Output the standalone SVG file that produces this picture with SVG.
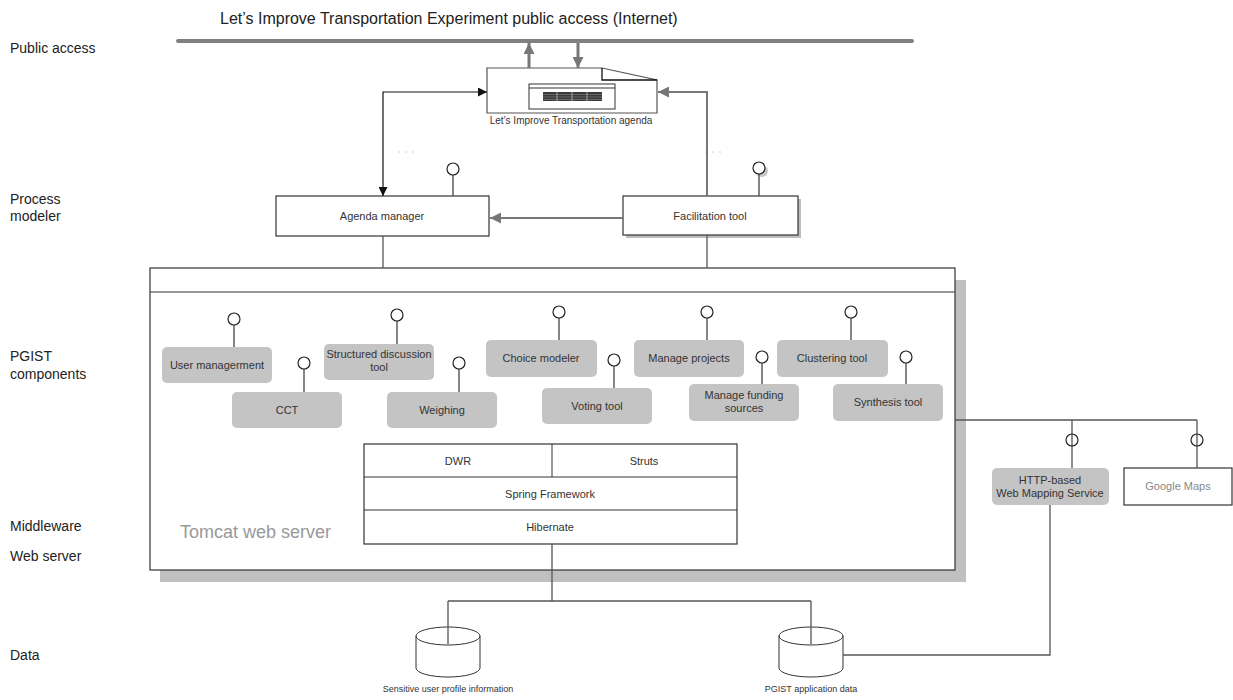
<svg xmlns="http://www.w3.org/2000/svg" width="1233" height="700" viewBox="0 0 1233 700">
<style>
text{font-family:"Liberation Sans",Arial,sans-serif;fill:#222}
.lbl{font-size:14px}
.sm{font-size:11px;text-anchor:middle;fill:#333}
.xs{font-size:9px;text-anchor:middle;fill:#333}
.comp{fill:#c4c4c4;stroke:none}
.box{fill:#fff;stroke:#333;stroke-width:1.2}
.stem{stroke:#444;stroke-width:1.3;fill:none}
.lol{fill:#fff;stroke:#222;stroke-width:1.2}
.conn{stroke:#555;stroke-width:1.3;fill:none}
.gconn{stroke:#777;stroke-width:2;fill:none}
</style>
<defs>
<marker id="arrB" viewBox="0 0 10 10" refX="10" refY="5" markerWidth="9" markerHeight="9" markerUnits="userSpaceOnUse" orient="auto-start-reverse"><path d="M0,0 L10,5 L0,10 z" fill="#111"/></marker>
<marker id="arrG" viewBox="0 0 10 10" refX="10" refY="5" markerWidth="12" markerHeight="11" markerUnits="userSpaceOnUse" orient="auto-start-reverse"><path d="M0,0 L10,5 L0,10 z" fill="#777"/></marker>
<marker id="arrG2" viewBox="0 0 10 10" refX="10" refY="5" markerWidth="14" markerHeight="11" markerUnits="userSpaceOnUse" orient="auto"><path d="M0,0 L10,5 L0,10 z" fill="#777"/></marker>
</defs>

<g id="layer-labels">
<text class="lbl" x="10" y="53">Public access</text>
<text class="lbl" x="10" y="204">Process</text>
<text class="lbl" x="10" y="221">modeler</text>
<text class="lbl" x="10" y="361">PGIST</text>
<text class="lbl" x="10" y="379">components</text>
<text class="lbl" x="10" y="531">Middleware</text>
<text class="lbl" x="10" y="561">Web server</text>
<text class="lbl" x="10" y="660">Data</text>
</g>

<g id="internet">
<text x="220" y="24" style="font-size:16px">Let’s Improve Transportation Experiment public access (Internet)</text>
<line x1="178" y1="41" x2="912" y2="41" stroke="#808080" stroke-width="4" stroke-linecap="round"/>
</g>

<g id="agenda-doc">
<path d="M487,68 H602 L657,80 V113 H487 Z" fill="#fff" stroke="#555" stroke-width="1.2"/>
<path d="M602,68 V80 H657" fill="none" stroke="#111" stroke-width="1.3"/>
<rect x="529" y="84" width="86" height="25" fill="#fff" stroke="#333" stroke-width="1"/>
<line x1="529" y1="88" x2="615" y2="88" stroke="#333" stroke-width="1"/>
<rect x="543" y="92" width="59" height="9" fill="#3a3a3a"/>
<g stroke="#888" stroke-width="0.6">
<line x1="543" y1="94.5" x2="602" y2="94.5"/><line x1="543" y1="97" x2="602" y2="97"/><line x1="543" y1="99.5" x2="602" y2="99.5"/>
</g>
<g stroke="#bbb" stroke-width="0.8">
<line x1="557" y1="92" x2="557" y2="101"/><line x1="572" y1="92" x2="572" y2="101"/><line x1="587" y1="92" x2="587" y2="101"/>
</g>
<text class="xs" x="571" y="124" style="font-size:10px">Let’s Improve Transportation agenda</text>
</g>

<g id="agenda-manager">
<rect class="box" x="276" y="196" width="213" height="40"/>
<text class="sm" x="382" y="220">Agenda manager</text>
<line class="stem" x1="453" y1="175" x2="453" y2="196"/>
<circle class="lol" cx="453" cy="169" r="6"/>
</g>

<g id="facilitation-tool">
<rect x="626" y="199" width="175" height="39" fill="#bdbdbd"/>
<rect class="box" x="623" y="196" width="175" height="39"/>
<text class="sm" x="710" y="220">Facilitation tool</text>
<circle cx="762" cy="171" r="6" fill="#c8c8c8"/>
<line class="stem" x1="759" y1="174" x2="759" y2="196"/>
<circle class="lol" cx="759" cy="168" r="6"/>
</g>

<g id="faint-marks" stroke="#ccc" stroke-width="1" stroke-dasharray="2,5">
<line x1="398" y1="152" x2="416" y2="152"/>
<line x1="705" y1="152" x2="723" y2="152"/>
</g>

<g id="tomcat">
<rect x="160" y="280" width="806" height="302" fill="#c0c0c0"/>
<rect class="box" x="150" y="268" width="805" height="302"/>
<line x1="150" y1="292" x2="955" y2="292" stroke="#333" stroke-width="1.2"/>
<text x="180" y="538" style="font-size:18px;fill:#999">Tomcat web server</text>
</g>

<g id="components">
<g id="c-user"><rect class="comp" x="162" y="347" width="110" height="36" rx="5"/><text class="sm" x="217" y="369">User managerment</text><line class="stem" x1="234" y1="325" x2="234" y2="347"/><circle class="lol" cx="234" cy="319" r="6"/></g>
<g id="c-cct"><rect class="comp" x="232" y="392" width="110" height="36" rx="5"/><text class="sm" x="287" y="414">CCT</text><line class="stem" x1="304" y1="369" x2="304" y2="392"/><circle class="lol" cx="304" cy="363" r="6"/></g>
<g id="c-sdt"><rect class="comp" x="324" y="344" width="110" height="36" rx="5"/><text class="sm" x="379" y="358">Structured discussion</text><text class="sm" x="379" y="371">tool</text><line class="stem" x1="397" y1="321" x2="397" y2="344"/><circle class="lol" cx="397" cy="315" r="6"/></g>
<g id="c-weigh"><rect class="comp" x="387" y="392" width="110" height="36" rx="5"/><text class="sm" x="442" y="414">Weighing</text><line class="stem" x1="459" y1="369" x2="459" y2="392"/><circle class="lol" cx="459" cy="363" r="6"/></g>
<g id="c-choice"><rect class="comp" x="486" y="340" width="111" height="37" rx="5"/><text class="sm" x="541" y="362">Choice modeler</text><line class="stem" x1="559" y1="318" x2="559" y2="340"/><circle class="lol" cx="559" cy="312" r="6"/></g>
<g id="c-vote"><rect class="comp" x="542" y="388" width="110" height="36" rx="5"/><text class="sm" x="597" y="410">Voting tool</text><line class="stem" x1="614" y1="366" x2="614" y2="388"/><circle class="lol" cx="614" cy="360" r="6"/></g>
<g id="c-projects"><rect class="comp" x="634" y="340" width="110" height="37" rx="5"/><text class="sm" x="689" y="362">Manage projects</text><line class="stem" x1="707" y1="318" x2="707" y2="340"/><circle class="lol" cx="707" cy="312" r="6"/></g>
<g id="c-funding"><rect class="comp" x="689" y="384" width="110" height="37" rx="5"/><text class="sm" x="744" y="399">Manage funding</text><text class="sm" x="744" y="412">sources</text><line class="stem" x1="762" y1="363" x2="762" y2="384"/><circle class="lol" cx="762" cy="357" r="6"/></g>
<g id="c-cluster"><rect class="comp" x="777" y="340" width="111" height="37" rx="5"/><text class="sm" x="832" y="362">Clustering tool</text><line class="stem" x1="851" y1="318" x2="851" y2="340"/><circle class="lol" cx="851" cy="312" r="6"/></g>
<g id="c-synth"><rect class="comp" x="833" y="384" width="110" height="37" rx="5"/><text class="sm" x="888" y="406">Synthesis tool</text><line class="stem" x1="906" y1="363" x2="906" y2="384"/><circle class="lol" cx="906" cy="357" r="6"/></g>
</g>

<g id="middleware">
<rect class="box" x="364" y="444" width="373" height="100" stroke-width="1"/>
<line x1="364" y1="477" x2="737" y2="477" stroke="#333"/>
<line x1="364" y1="510" x2="737" y2="510" stroke="#333"/>
<line x1="552" y1="444" x2="552" y2="477" stroke="#333"/>
<text class="sm" x="458" y="465">DWR</text>
<text class="sm" x="644" y="465">Struts</text>
<text class="sm" x="550" y="498">Spring Framework</text>
<text class="sm" x="550" y="531">Hibernate</text>
</g>

<g id="http-wms">
<rect class="comp" x="992" y="468" width="117" height="37" rx="5"/>
<text class="sm" x="1050" y="484">HTTP-based</text>
<text class="sm" x="1050" y="497">Web Mapping Service</text>
</g>

<g id="google-maps">
<rect class="box" x="1124" y="468" width="108" height="37" stroke-width="1"/>
<text class="sm" x="1178" y="490" style="fill:#888">Google Maps</text>
</g>

<g id="db-sensitive">
<path d="M416,636 V668 A32,9 0 0 0 480,668 V636 A32,9 0 0 0 416,636 Z" fill="#fff" stroke="#333" stroke-width="1"/>
<path d="M416,636 A32,9 0 0 0 480,636" fill="none" stroke="#333" stroke-width="1"/>
<text class="xs" x="448" y="692">Sensitive user profile information</text>
</g>

<g id="db-pgist">
<path d="M779,636 V668 A32,9 0 0 0 843,668 V636 A32,9 0 0 0 779,636 Z" fill="#fff" stroke="#333" stroke-width="1"/>
<path d="M779,636 A32,9 0 0 0 843,636" fill="none" stroke="#333" stroke-width="1"/>
<text class="xs" x="811" y="692">PGIST application data</text>
</g>

<g id="connectors">
<line x1="529" y1="68" x2="529" y2="43" stroke="#777" stroke-width="3" marker-end="url(#arrG2)"/>
<line x1="578" y1="43" x2="578" y2="68" stroke="#777" stroke-width="3" marker-end="url(#arrG2)"/>
<path d="M383,196 V92 H487" fill="none" stroke="#111" stroke-width="1.2" marker-start="url(#arrB)" marker-end="url(#arrB)"/>
<path class="gconn" d="M707,196 V92 H658" marker-end="url(#arrG)"/>
<path class="gconn" d="M623,218 H490" marker-end="url(#arrG)"/>
<line class="conn" x1="383" y1="236" x2="383" y2="268"/>
<line class="conn" x1="707" y1="235" x2="707" y2="268"/>
<path class="conn" d="M955,420 H1197 M1072,420 V468 M1197,420 V468"/>
<circle cx="1072" cy="440" r="6" fill="none" stroke="#222" stroke-width="1.2"/>
<circle cx="1197" cy="440" r="6" fill="none" stroke="#222" stroke-width="1.2"/>
<path class="conn" d="M552,544 V601 M448,601 H811 M448,601 V644 M811,601 V644"/>
<path class="conn" d="M1050,505 V655 H843"/>
</g>
</svg>
